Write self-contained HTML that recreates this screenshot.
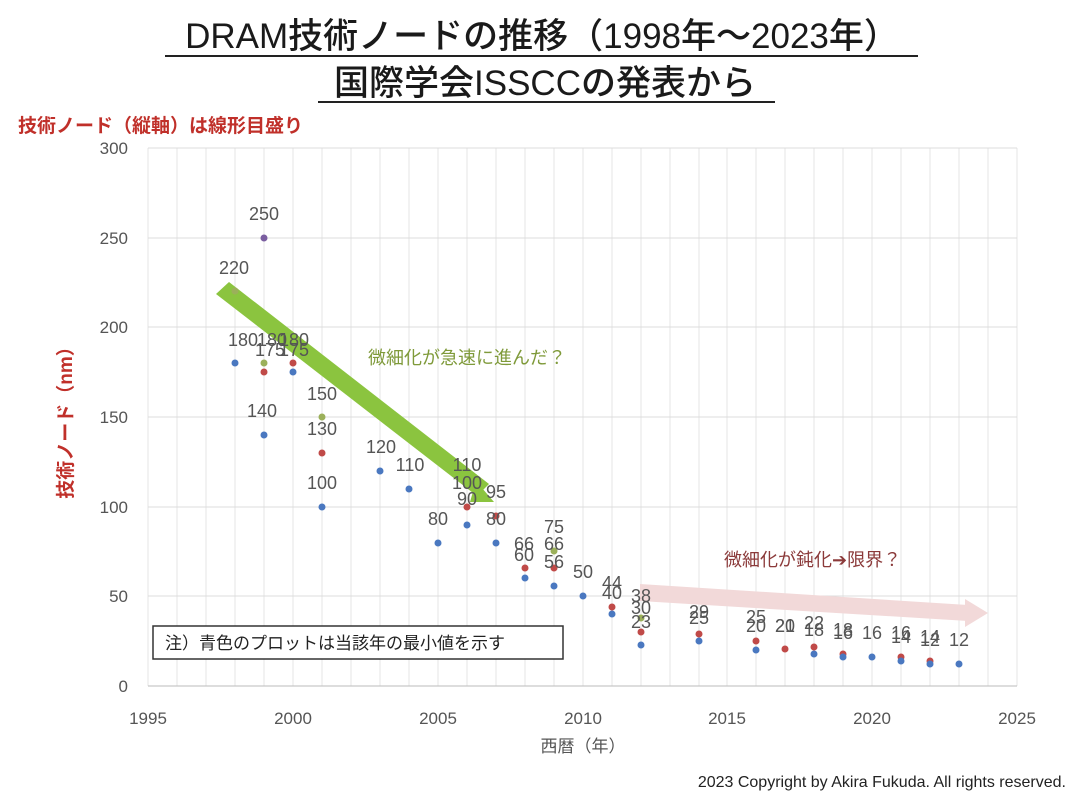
<!DOCTYPE html>
<html><head><meta charset="utf-8"><style>
body{margin:0;background:#fff;}
svg text{font-family:"Liberation Sans","Noto Sans CJK JP",sans-serif;}
</style></head><body>
<svg width="1080" height="803" xmlns="http://www.w3.org/2000/svg">
<rect width="1080" height="803" fill="#fff"/>
<text x="542" y="48" font-size="35" text-anchor="middle" fill="#1a1a1a" font-weight="500">DRAM技術ノードの推移（1998年～2023年）</text>
<line x1="165" y1="56" x2="918" y2="56" stroke="#222" stroke-width="2"/>
<text x="545" y="95" font-size="35" text-anchor="middle" fill="#1a1a1a" font-weight="500">国際学会ISSCCの発表から</text>
<line x1="318" y1="102" x2="775" y2="102" stroke="#222" stroke-width="2"/>
<text x="18" y="132" font-size="19" font-weight="bold" fill="#c0302a">技術ノード（縦軸）は線形目盛り</text>
<g stroke="#e6e6e6">
<line x1="148" y1="148" x2="148" y2="686"/><line x1="177" y1="148" x2="177" y2="686"/><line x1="206" y1="148" x2="206" y2="686"/><line x1="235" y1="148" x2="235" y2="686"/><line x1="264" y1="148" x2="264" y2="686"/><line x1="293" y1="148" x2="293" y2="686"/><line x1="322" y1="148" x2="322" y2="686"/><line x1="351" y1="148" x2="351" y2="686"/><line x1="380" y1="148" x2="380" y2="686"/><line x1="409" y1="148" x2="409" y2="686"/><line x1="438" y1="148" x2="438" y2="686"/><line x1="467" y1="148" x2="467" y2="686"/><line x1="496" y1="148" x2="496" y2="686"/><line x1="525" y1="148" x2="525" y2="686"/><line x1="554" y1="148" x2="554" y2="686"/><line x1="583" y1="148" x2="583" y2="686"/><line x1="612" y1="148" x2="612" y2="686"/><line x1="641" y1="148" x2="641" y2="686"/><line x1="670" y1="148" x2="670" y2="686"/><line x1="699" y1="148" x2="699" y2="686"/><line x1="727" y1="148" x2="727" y2="686"/><line x1="756" y1="148" x2="756" y2="686"/><line x1="785" y1="148" x2="785" y2="686"/><line x1="814" y1="148" x2="814" y2="686"/><line x1="843" y1="148" x2="843" y2="686"/><line x1="872" y1="148" x2="872" y2="686"/><line x1="901" y1="148" x2="901" y2="686"/><line x1="930" y1="148" x2="930" y2="686"/><line x1="959" y1="148" x2="959" y2="686"/><line x1="988" y1="148" x2="988" y2="686"/><line x1="1017" y1="148" x2="1017" y2="686"/>
</g>
<g stroke="#dcdcdc">
<line x1="148" y1="148" x2="1017" y2="148"/><line x1="148" y1="238" x2="1017" y2="238"/><line x1="148" y1="327" x2="1017" y2="327"/><line x1="148" y1="417" x2="1017" y2="417"/><line x1="148" y1="507" x2="1017" y2="507"/><line x1="148" y1="596" x2="1017" y2="596"/><line x1="148" y1="686" x2="1017" y2="686" stroke="#bbb"/>
</g>
<g font-size="17" fill="#555" text-anchor="end">
<text x="128" y="154">300</text><text x="128" y="244">250</text><text x="128" y="333">200</text><text x="128" y="423">150</text><text x="128" y="513">100</text><text x="128" y="602">50</text><text x="128" y="692">0</text>
</g>
<g font-size="17" fill="#555" text-anchor="middle">
<text x="148" y="724">1995</text><text x="293" y="724">2000</text><text x="438" y="724">2005</text><text x="583" y="724">2010</text><text x="727" y="724">2015</text><text x="872" y="724">2020</text><text x="1017" y="724">2025</text>
</g>
<text x="583" y="752" font-size="17" fill="#555" text-anchor="middle">西暦（年）</text>
<text transform="translate(72,418) rotate(-90)" font-size="19" font-weight="bold" fill="#c0302a" text-anchor="middle">技術ノード（nm）</text>
<polygon points="216,294 229,282 489,484 477,496" fill="#8bc43f"/>
<polygon points="476,481 494,502 470,502" fill="#8bc43f"/>
<polygon points="640,584 640,601 968,621 968,605" fill="#f2d9d9"/>
<polygon points="965,599 988,613 965,627" fill="#f2d9d9"/>
<text x="368" y="364" font-size="18" fill="#7f9a3a">微細化が急速に進んだ？</text>
<text x="724" y="566" font-size="18" fill="#8b3a3a">微細化が鈍化➔限界？</text>
<rect x="153" y="626" width="410" height="33" fill="#fff" stroke="#333" stroke-width="1.5"/>
<text x="165" y="649" font-size="17" fill="#222">注）青色のプロットは当該年の最小値を示す</text>
<g>
<circle cx="235" cy="291" r="3.5" fill="#9bb05a"/><circle cx="235" cy="363" r="3.5" fill="#4a78c0"/>
<circle cx="264" cy="238" r="3.5" fill="#7a5ea0"/><circle cx="264" cy="363" r="3.5" fill="#9bb05a"/><circle cx="264" cy="372" r="3.5" fill="#c04a48"/><circle cx="264" cy="435" r="3.5" fill="#4a78c0"/>
<circle cx="293" cy="363" r="3.5" fill="#c04a48"/><circle cx="293" cy="372" r="3.5" fill="#4a78c0"/>
<circle cx="322" cy="417" r="3.5" fill="#9bb05a"/><circle cx="322" cy="453" r="3.5" fill="#c04a48"/><circle cx="322" cy="507" r="3.5" fill="#4a78c0"/>
<circle cx="380" cy="471" r="3.5" fill="#4a78c0"/><circle cx="409" cy="489" r="3.5" fill="#4a78c0"/><circle cx="438" cy="543" r="3.5" fill="#4a78c0"/>
<circle cx="467" cy="507" r="3.5" fill="#c04a48"/><circle cx="467" cy="525" r="3.5" fill="#4a78c0"/>
<circle cx="496" cy="516" r="3.5" fill="#c04a48"/><circle cx="496" cy="543" r="3.5" fill="#4a78c0"/>
<circle cx="525" cy="568" r="3.5" fill="#c04a48"/><circle cx="525" cy="578" r="3.5" fill="#4a78c0"/>
<circle cx="554" cy="551" r="3.5" fill="#9bb05a"/><circle cx="554" cy="568" r="3.5" fill="#c04a48"/><circle cx="554" cy="586" r="3.5" fill="#4a78c0"/>
<circle cx="583" cy="596" r="3.5" fill="#4a78c0"/>
<circle cx="612" cy="607" r="3.5" fill="#c04a48"/><circle cx="612" cy="614" r="3.5" fill="#4a78c0"/>
<circle cx="641" cy="618" r="3.5" fill="#9bb05a"/><circle cx="641" cy="632" r="3.5" fill="#c04a48"/><circle cx="641" cy="645" r="3.5" fill="#4a78c0"/>
<circle cx="699" cy="634" r="3.5" fill="#c04a48"/><circle cx="699" cy="641" r="3.5" fill="#4a78c0"/>
<circle cx="756" cy="641" r="3.5" fill="#c04a48"/><circle cx="756" cy="650" r="3.5" fill="#4a78c0"/>
<circle cx="785" cy="649" r="3.5" fill="#c04a48"/>
<circle cx="814" cy="647" r="3.5" fill="#c04a48"/><circle cx="814" cy="654" r="3.5" fill="#4a78c0"/>
<circle cx="843" cy="654" r="3.5" fill="#c04a48"/><circle cx="843" cy="657" r="3.5" fill="#4a78c0"/>
<circle cx="872" cy="657" r="3.5" fill="#4a78c0"/>
<circle cx="901" cy="657" r="3.5" fill="#c04a48"/><circle cx="901" cy="661" r="3.5" fill="#4a78c0"/>
<circle cx="930" cy="661" r="3.5" fill="#c04a48"/><circle cx="930" cy="664" r="3.5" fill="#4a78c0"/>
<circle cx="959" cy="664" r="3.5" fill="#4a78c0"/>
</g>
<g font-size="18" fill="#555" text-anchor="middle">
<text x="234" y="274">220</text><text x="264" y="220">250</text>
<text x="243" y="346">180</text><text x="272" y="346">180</text><text x="294" y="346">180</text>
<text x="270" y="356">175</text><text x="294" y="356">175</text>
<text x="262" y="417">140</text><text x="322" y="400">150</text><text x="322" y="435">130</text><text x="322" y="489">100</text>
<text x="381" y="453">120</text><text x="410" y="471">110</text><text x="438" y="525">80</text>
<text x="467" y="471">110</text><text x="467" y="489">100</text><text x="467" y="505">90</text>
<text x="496" y="498">95</text><text x="496" y="525">80</text>
<text x="524" y="550">66</text><text x="524" y="561">60</text>
<text x="554" y="533">75</text><text x="554" y="550">66</text><text x="554" y="568">56</text>
<text x="583" y="578">50</text><text x="612" y="589">44</text><text x="612" y="599">40</text>
<text x="641" y="602">38</text><text x="641" y="614">30</text><text x="641" y="628">23</text>
<text x="699" y="618">29</text><text x="699" y="624">25</text>
<text x="756" y="623">25</text><text x="756" y="632">20</text><text x="785" y="632">21</text><text x="785" y="632">20</text>
<text x="814" y="629">22</text><text x="814" y="636">18</text>
<text x="843" y="636">18</text><text x="843" y="639">16</text><text x="872" y="639">16</text>
<text x="901" y="639">16</text><text x="901" y="643">14</text><text x="930" y="643">14</text><text x="930" y="646">12</text><text x="959" y="646">12</text>
</g>
<text x="1066" y="787" font-size="16" fill="#222" text-anchor="end">2023 Copyright by Akira Fukuda. All rights reserved.</text>
</svg>
</body></html>
